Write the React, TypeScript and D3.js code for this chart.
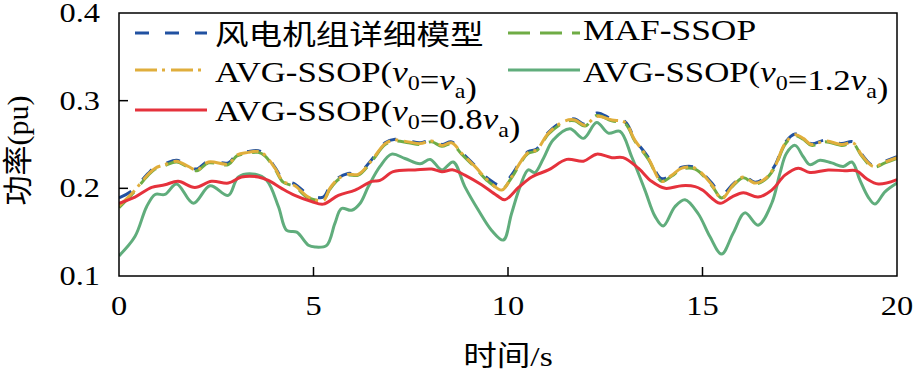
import * as d3 from 'd3'

// time axis for the three nearly identical dashed curves
const tDash = [0, 0.33, 0.75, 0.93, 1.18, 1.48, 1.78, 2.0, 2.3, 2.81, 3.03, 3.32, 3.58, 3.75, 4.01, 4.22, 4.52, 4.87, 5.25, 5.42, 5.64, 5.89, 6.15, 6.5, 6.84, 7.1, 7.44, 7.74, 8.04, 8.3, 8.55, 8.81, 9.15, 9.49, 9.84, 10.09, 10.35, 10.52, 10.74, 11.04, 11.47, 11.72, 11.98, 12.28, 12.67, 13.01, 13.26, 13.61, 13.95, 14.21, 14.47, 14.81, 15.24, 15.49, 15.79, 16.05, 16.35, 16.61, 16.86, 17.12, 17.38, 17.59, 17.8, 18.15, 18.58, 18.87, 19.09, 19.39, 19.69, 20]

const detailModel = [0.189, 0.197, 0.217, 0.224, 0.228, 0.232, 0.226, 0.222, 0.231, 0.229, 0.239, 0.242, 0.243, 0.239, 0.224, 0.210, 0.205, 0.193, 0.190, 0.202, 0.212, 0.217, 0.217, 0.233, 0.252, 0.256, 0.254, 0.252, 0.255, 0.250, 0.253, 0.241, 0.226, 0.211, 0.203, 0.215, 0.233, 0.242, 0.245, 0.264, 0.278, 0.279, 0.273, 0.286, 0.279, 0.276, 0.256, 0.235, 0.211, 0.216, 0.224, 0.224, 0.206, 0.193, 0.205, 0.214, 0.207, 0.212, 0.226, 0.252, 0.262, 0.258, 0.251, 0.255, 0.251, 0.253, 0.239, 0.226, 0.231, 0.236]

const mafSsop = [0.178, 0.193, 0.215, 0.222, 0.226, 0.230, 0.224, 0.220, 0.229, 0.227, 0.237, 0.240, 0.241, 0.237, 0.222, 0.207, 0.202, 0.189, 0.187, 0.199, 0.210, 0.215, 0.215, 0.231, 0.250, 0.254, 0.252, 0.250, 0.253, 0.248, 0.251, 0.239, 0.224, 0.208, 0.199, 0.212, 0.231, 0.240, 0.243, 0.262, 0.276, 0.277, 0.271, 0.283, 0.277, 0.274, 0.254, 0.233, 0.208, 0.214, 0.222, 0.222, 0.203, 0.189, 0.203, 0.212, 0.205, 0.210, 0.224, 0.250, 0.260, 0.256, 0.249, 0.253, 0.249, 0.251, 0.237, 0.224, 0.229, 0.234]

const avgVa = [0.180, 0.194, 0.216, 0.223, 0.227, 0.231, 0.225, 0.221, 0.230, 0.228, 0.238, 0.241, 0.242, 0.238, 0.223, 0.208, 0.203, 0.190, 0.186, 0.200, 0.211, 0.216, 0.216, 0.232, 0.251, 0.255, 0.253, 0.251, 0.254, 0.249, 0.252, 0.240, 0.225, 0.209, 0.198, 0.213, 0.232, 0.241, 0.244, 0.263, 0.277, 0.278, 0.272, 0.282, 0.278, 0.275, 0.255, 0.234, 0.208, 0.215, 0.223, 0.223, 0.204, 0.188, 0.204, 0.213, 0.206, 0.211, 0.225, 0.251, 0.261, 0.257, 0.250, 0.254, 0.250, 0.252, 0.238, 0.225, 0.230, 0.235]

const tHigh = [0, 0.41, 0.71, 0.93, 1.18, 1.48, 1.91, 2.34, 2.81, 3.07, 3.5, 3.8, 4.1, 4.31, 4.57, 4.87, 5.04, 5.34, 5.55, 5.72, 5.98, 6.2, 6.41, 6.71, 7.01, 7.35, 7.74, 8.0, 8.3, 8.59, 8.89, 9.24, 9.58, 9.88, 10.09, 10.31, 10.52, 10.69, 10.91, 11.16, 11.59, 11.94, 12.28, 12.58, 12.88, 13.18, 13.52, 13.78, 13.99, 14.29, 14.55, 14.89, 15.19, 15.49, 15.79, 16.09, 16.43, 16.78, 16.99, 17.16, 17.38, 17.59, 17.76, 18.02, 18.32, 18.62, 18.84, 19.05, 19.26, 19.43, 19.69, 20]
const avg12Va = [0.123, 0.145, 0.179, 0.193, 0.193, 0.205, 0.183, 0.203, 0.192, 0.213, 0.216, 0.209, 0.179, 0.152, 0.150, 0.135, 0.133, 0.135, 0.160, 0.177, 0.175, 0.183, 0.202, 0.225, 0.239, 0.234, 0.228, 0.233, 0.221, 0.230, 0.202, 0.175, 0.152, 0.141, 0.171, 0.202, 0.221, 0.218, 0.234, 0.255, 0.268, 0.257, 0.275, 0.263, 0.265, 0.236, 0.198, 0.168, 0.157, 0.179, 0.187, 0.171, 0.145, 0.125, 0.149, 0.172, 0.158, 0.183, 0.217, 0.240, 0.249, 0.236, 0.227, 0.232, 0.229, 0.225, 0.230, 0.209, 0.190, 0.182, 0.196, 0.206]

const tLow = [0, 0.41, 0.84, 1.18, 1.52, 1.95, 2.38, 2.81, 3.15, 3.58, 3.84, 4.18, 4.52, 4.95, 5.25, 5.64, 6.07, 6.5, 6.71, 7.05, 7.61, 8.04, 8.3, 8.59, 8.89, 9.32, 9.71, 9.92, 10.27, 10.61, 11.04, 11.51, 11.94, 12.28, 12.67, 12.96, 13.35, 13.69, 14.04, 14.47, 14.81, 15.0, 15.45, 15.75, 16.05, 16.43, 16.78, 17.12, 17.46, 17.76, 18.23, 18.66, 18.96, 19.22, 19.52, 20]
const avg08Va = [0.183, 0.190, 0.201, 0.204, 0.208, 0.201, 0.208, 0.206, 0.213, 0.213, 0.209, 0.200, 0.192, 0.185, 0.182, 0.192, 0.198, 0.208, 0.209, 0.219, 0.221, 0.222, 0.219, 0.221, 0.215, 0.204, 0.192, 0.187, 0.201, 0.213, 0.221, 0.233, 0.231, 0.239, 0.235, 0.235, 0.223, 0.208, 0.200, 0.203, 0.202, 0.198, 0.183, 0.190, 0.195, 0.190, 0.198, 0.215, 0.223, 0.218, 0.221, 0.220, 0.220, 0.211, 0.205, 0.210]

const xTicks = [0, 5, 10, 15, 20]
const yTicks = [0.1, 0.2, 0.3, 0.4]

const SERIF = '"Liberation Serif", "DejaVu Serif", serif'
const CJK = '"Noto Sans CJK SC", sans-serif'
const STRETCH = 1.2 // the source figure's text is drawn wide

const W = 914
const H = 373
const margin = { top: 13, right: 17, bottom: 97, left: 119 }

const BLUE = '#2151a1'
const LIGHT_GREEN = '#6fac45'
const YELLOW = '#e0ae3c'
const GREEN = '#60ad7c'
const RED = '#e5323c'

function SText({ x, y, size, anchor = 'start', children }: any) {
  return (
    <g transform={`translate(${x},${y}) scale(${STRETCH},1)`}>
      <text textAnchor={anchor} fontFamily={SERIF} fontSize={size} fill="#000">
        {children}
      </text>
    </g>
  )
}

function Sub({ base, sub }: { base: string; sub: string }) {
  return (
    <>
      <tspan fontStyle="italic">{base}</tspan>
      <tspan fontSize={20} dy={8}>{sub}</tspan>
      <tspan dy={-8}>{''}</tspan>
    </>
  )
}

export default function App() {
  const innerW = W - margin.left - margin.right
  const innerH = H - margin.top - margin.bottom
  const x = d3.scaleLinear().domain([0, 20]).range([0, innerW])
  const y = d3.scaleLinear().domain([0.1, 0.4]).range([innerH, 0])

  const line = d3
    .line<[number, number]>()
    .x(d => x(d[0]))
    .y(d => y(d[1]))
    .curve(d3.curveCatmullRom.alpha(0.5))

  const zip = (t: number[], v: number[]) => t.map((ti, i) => [ti, v[i]] as [number, number])

  const series = [
    { name: 'detail', pts: zip(tDash, detailModel), color: BLUE, dash: '14,16' },
    { name: 'maf', pts: zip(tDash, mafSsop), color: LIGHT_GREEN, dash: '22,10' },
    { name: 'avg', pts: zip(tDash, avgVa), color: YELLOW, dash: '22,5,3,6' },
    { name: 'avg12', pts: zip(tHigh, avg12Va), color: GREEN, dash: null },
    { name: 'avg08', pts: zip(tLow, avg08Va), color: RED, dash: null },
  ]

  return (
    <svg width={W} height={H} style={{ position: 'absolute', left: 0, top: 0, background: '#fff' }}>
      <g transform={`translate(${margin.left},${margin.top})`}>
        <clipPath id="plot-clip">
          <rect x={0} y={0} width={innerW} height={innerH} />
        </clipPath>
        <g clipPath="url(#plot-clip)">
          {series.map(s => (
            <path
              key={s.name}
              d={line(s.pts) || ''}
              fill="none"
              stroke={s.color}
              strokeWidth={3}
              strokeDasharray={s.dash || undefined}
            />
          ))}
        </g>

        {/* frame */}
        <rect x={0} y={0} width={innerW} height={innerH} fill="none" stroke="#000" strokeWidth={1.5} />

        {/* y ticks point inward */}
        {yTicks.map(v => (
          <g key={v}>
            {v > 0.1 && v < 0.4 && <line x1={0} x2={9} y1={y(v)} y2={y(v)} stroke="#000" strokeWidth={1.5} />}
            <SText x={-19} y={y(v) + 9} size={27} anchor="end">
              {v.toFixed(1)}
            </SText>
          </g>
        ))}

        {/* x ticks point inward */}
        {xTicks.map(v => (
          <g key={v}>
            {v > 0 && v < 20 && <line x1={x(v)} x2={x(v)} y1={innerH} y2={innerH - 9} stroke="#000" strokeWidth={1.5} />}
            <SText x={x(v)} y={innerH + 39} size={27} anchor="middle">
              {v}
            </SText>
          </g>
        ))}

        <SText x={innerW / 2} y={innerH + 90} size={28} anchor="middle">
          <tspan fontFamily={CJK}>时间</tspan>/s
        </SText>
        <text
          transform={`translate(${-91},${innerH / 2 + 6}) rotate(-90)`}
          textAnchor="middle"
          fontFamily={SERIF}
          fontSize={30}
        >
          <tspan fontFamily={CJK}>功率</tspan>(pu)
        </text>

        {/* legend */}
        <g>
          <line x1={16} x2={88} y1={20} y2={20} stroke={BLUE} strokeWidth={3} strokeDasharray="14,16" />
          <SText x={96} y={32} size={28}>
            <tspan fontFamily={CJK}>风电机组详细模型</tspan>
          </SText>

          <line x1={389} x2={461} y1={20} y2={20} stroke={LIGHT_GREEN} strokeWidth={3} strokeDasharray="22,10" />
          <SText x={464} y={27} size={29.5}>MAF-SSOP</SText>

          <line x1={16} x2={88} y1={57} y2={57} stroke={YELLOW} strokeWidth={3} strokeDasharray="22,5,3,6" />
          <SText x={96} y={69} size={29}>
            AVG-SSOP(<Sub base="v" sub="0" />=<Sub base="v" sub="a" />)
          </SText>

          <line x1={389} x2={461} y1={57} y2={57} stroke={GREEN} strokeWidth={3} />
          <SText x={464} y={69} size={29}>
            AVG-SSOP(<Sub base="v" sub="0" />=1.2<Sub base="v" sub="a" />)
          </SText>

          <line x1={16} x2={88} y1={97} y2={97} stroke={RED} strokeWidth={3} />
          <SText x={96} y={108} size={29}>
            AVG-SSOP(<Sub base="v" sub="0" />=0.8<Sub base="v" sub="a" />)
          </SText>
        </g>
      </g>
    </svg>
  )
}
